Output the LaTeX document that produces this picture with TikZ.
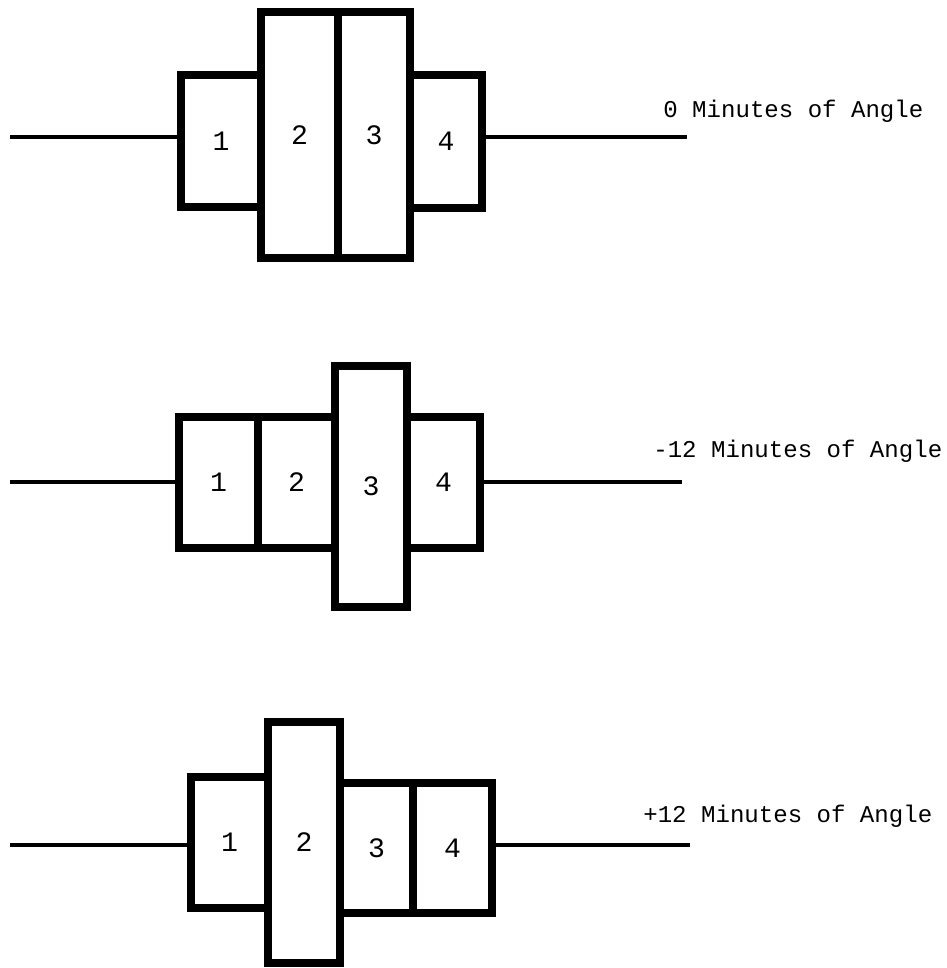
\documentclass[tikz,border=0pt]{standalone}
\usepackage{fontspec}
\setmainfont{Liberation Mono}
\tikzset{%
  cell/.style    = {shape=rectangle, draw, line width=4.5pt, line join=miter,%
                    inner sep=0pt, font=\fontsize{16}{18}\selectfont},%
  wire/.style    = {line width=2.6pt},%
  caption/.style = {anchor=base west, inner sep=0pt,%
                    font=\fontsize{13.7}{16}\selectfont}%
}

\begin{document}
\begin{tikzpicture}[x=0.02cm,y=-0.02cm]
  \useasboundingbox (0,0) rectangle (947,968);
  % 0 minutes
  \node (a1) at (221,141)   [cell,minimum width=1.6cm,minimum height=2.64cm] {1};
  \node (a2) at (299.5,135) [cell,minimum width=1.54cm,minimum height=4.92cm] {2};
  \node (a3) at (374,135)   [cell,minimum width=1.44cm,minimum height=4.92cm] {3};
  \node (a4) at (446,141.5) [cell,minimum width=1.44cm,minimum height=2.66cm] {4};
  \coordinate (a0) at (10,137);
  \coordinate (a5) at (687,137);
  \draw [wire] (a0) -- (a0 -| a1.west);
  \draw [wire] (a4.east |- a5) -- (a5);
  \node (la) at (663,117) [caption] {0 Minutes of Angle};
  % -12 minutes
  \node (b1) at (218.5,482.5) [cell,minimum width=1.58cm,minimum height=2.62cm] {1};
  \node (b2) at (296.5,482.5) [cell,minimum width=1.54cm,minimum height=2.62cm] {2};
  \node (b3) at (371,486.5)   [cell,minimum width=1.44cm,minimum height=4.82cm] {3};
  \node (b4) at (443.5,482.5) [cell,minimum width=1.46cm,minimum height=2.62cm] {4};
  \coordinate (b0) at (10,482);
  \coordinate (b5) at (682,482);
  \draw [wire] (b0) -- (b0 -| b1.west);
  \draw [wire] (b4.east |- b5) -- (b5);
  \node (lb) at (653,457) [caption] {-12 Minutes of Angle};
  % +12 minutes
  \node (c1) at (229.5,842.5) [cell,minimum width=1.54cm,minimum height=2.62cm] {1};
  \node (c2) at (304,842.5)   [cell,minimum width=1.44cm,minimum height=4.82cm] {2};
  \node (c3) at (376.5,848)   [cell,minimum width=1.46cm,minimum height=2.6cm] {3};
  \node (c4) at (452.5,848)   [cell,minimum width=1.58cm,minimum height=2.6cm] {4};
  \coordinate (c0) at (10,845);
  \coordinate (c5) at (690,845);
  \draw [wire] (c0) -- (c0 -| c1.west);
  \draw [wire] (c4.east |- c5) -- (c5);
  \node (lc) at (643,822) [caption] {+12 Minutes of Angle};
\end{tikzpicture}
\end{document}
